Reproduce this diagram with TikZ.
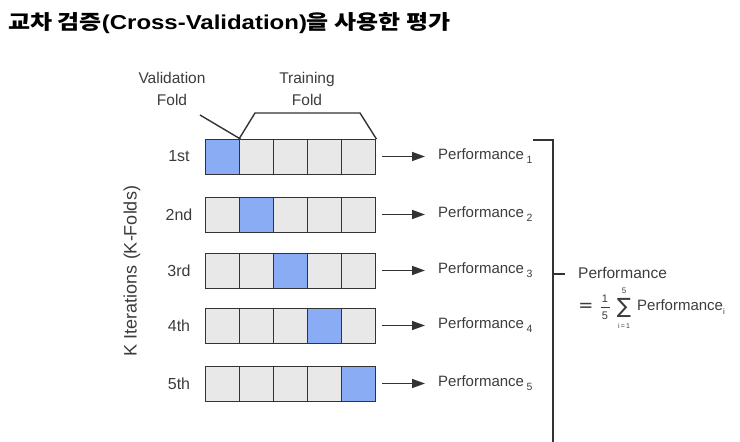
\documentclass[tikz,border=0pt]{standalone}
\usepackage{fontspec}
\setmainfont{Liberation Sans}
\newfontfamily\kr{Noto Sans CJK KR}
\newfontfamily\dvs{DejaVu Sans}
\usetikzlibrary{arrows.meta}
\definecolor{cellblue}{HTML}{89ACF4}
\definecolor{cellgray}{HTML}{E8E8E8}
\definecolor{edge}{HTML}{333333}
\definecolor{txt}{HTML}{3C3C3C}
\begin{document}
\begin{tikzpicture}[x=1pt,y=-1pt,
  cell/.style={draw=edge,line width=1.4pt,fill=cellgray,minimum width=34pt,minimum height=35pt,inner sep=0pt,anchor=north west},
  vcell/.style={cell,fill=cellblue},
  lbl/.style={text=txt,font=\fontsize{16}{18}\selectfont,inner sep=0pt},
  hdr/.style={lbl,font=\fontsize{15.5}{18}\selectfont,align=center},
  perf/.style={lbl,anchor=west,font=\fontsize{15}{18}\selectfont},
  arr/.style={draw=edge,line width=1.5pt,-{Triangle[length=13pt,width=9pt]},shorten >=13pt},
  lne/.style={draw=edge,line width=1.4pt}]
\useasboundingbox (0,0) rectangle (740,442);
\node[anchor=base west,inner sep=0pt] (title) at (8,29) {\resizebox{442pt}{17pt}{\bfseries{\kr 교차 검증}(Cross-Validation){\kr 을 사용한 평가}}};
% rows
\foreach \r/\y/\lab in {1/139/1st,2/197/2nd,3/253/3rd,4/308/4th,5/366/5th}{
  \foreach \c in {1,...,5}{
    \ifnum\c=\r
      \node[vcell] (c\r\c) at ({205+34*(\c-1)},\y) {};
    \else
      \node[cell] (c\r\c) at ({205+34*(\c-1)},\y) {};
    \fi
  }
  \node[lbl] (l\r) at (179,\y+17.5) {\lab};
  \node[perf] (p\r) at (438,\y+17.5) {Performance\,\raisebox{-0.5ex}{\fontsize{10.5}{12}\selectfont\r}};
  \coordinate (s\r) at (382,\y+17.5);
  \draw[arr] (s\r) -- (p\r.west);
}
% headers
\node[hdr] (vf) at (172,89) {Validation\\[4pt]Fold};
\node[hdr] (tf) at (307,89) {Training\\[4pt]Fold};
\coordinate (va) at (200,115);
\draw[lne] (va) -- (c11.north east);
\coordinate (tb1) at (255,113);
\coordinate (tb2) at (360,113);
\draw[lne] (c12.north west) -- (tb1) -- (tb2) -- (c15.north east);
% side label
\node[lbl,rotate=90,font=\fontsize{18}{20}\selectfont] (kit) at (132,271) {K Iterations (K-Folds)};
% bracket
\coordinate (b1) at (533,140);
\coordinate (b2) at (553,140);
\coordinate (b3) at (553,445);
\coordinate (bm) at (553,274);
\coordinate (bt) at (565,274);
\draw[lne,line width=1.2pt] (b1) -- (b2) -- (b3);
\draw[lne,line width=1.2pt] (bm) -- (bt);
\node[perf,font=\fontsize{15.5}{18}\selectfont] (res) at (578,273) {Performance};
% formula
\node[lbl,font=\dvs\fontsize{18}{20}\selectfont] (eq) at (586,307) {=};
\node[lbl,font=\fontsize{11}{12}\selectfont] (f1) at (605,299) {1};
\node[lbl,font=\fontsize{11}{12}\selectfont] (f5) at (605,315.5) {5};
\draw[draw=txt,line width=0.5pt] (600.5,307) -- (609.5,307);
\node[lbl,font=\dvs\fontsize{21}{22}\selectfont] (sig) at (624,308) {∑};
\node[lbl,font=\fontsize{8}{9}\selectfont] (sup) at (624,291) {5};
\node[lbl,font=\fontsize{7}{8}\selectfont] (sub) at (624,326) {i\,=\,1};
\node[perf,font=\fontsize{15}{18}\selectfont] (fp) at (637,307) {Performance\raisebox{-0.6ex}{\fontsize{8}{9}\selectfont i}};
\end{tikzpicture}
\end{document}
